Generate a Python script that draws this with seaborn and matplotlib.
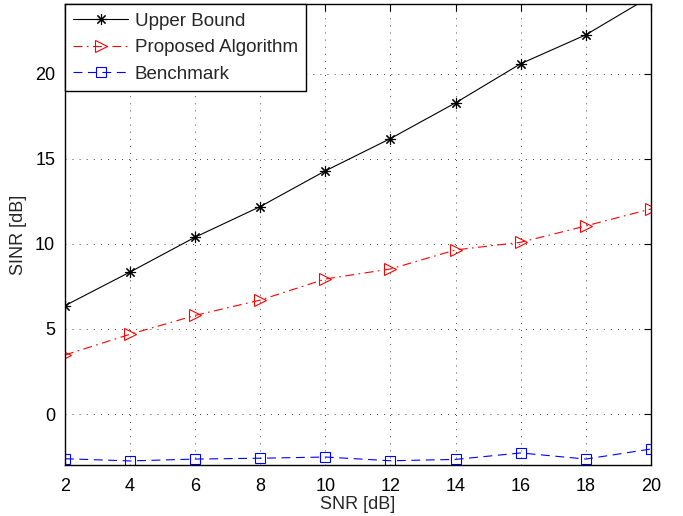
import matplotlib
matplotlib.use("Agg")
import matplotlib.pyplot as plt
import seaborn as sns
import numpy as np

snr = [2, 4, 6, 8, 10, 12, 14, 16, 18, 20]
upper_bound = [6.37, 8.35, 10.4, 12.2, 14.3, 16.2, 18.3, 20.6, 22.3, 24.57]
proposed = [3.47, 4.69, 5.8, 6.7, 7.94, 8.53, 9.65, 10.1, 11.06, 12.06]
benchmark = [-2.63, -2.76, -2.65, -2.6, -2.53, -2.75, -2.67, -2.29, -2.65, -2.06]
xticks = [2, 4, 6, 8, 10, 12, 14, 16, 18, 20]
yticks = [0, 5, 10, 15, 20]

sns.set_style("white")
plt.rcParams['font.family'] = ['Liberation Sans', 'DejaVu Sans']

fig = plt.figure(figsize=(6.83, 5.16), dpi=100)
ax = fig.add_axes([0.095, 0.0988, 0.858, 0.893])

sns.lineplot(x=snr, y=upper_bound, ax=ax, color='black', linestyle='-', linewidth=0.8,
             marker=(8, 2, 0), markersize=8, markeredgewidth=0.8, markeredgecolor='black',
             label='Upper Bound')
sns.lineplot(x=snr, y=proposed, ax=ax, color='red', linewidth=0.8,
             marker='>', markersize=9, markerfacecolor='none', markeredgecolor='red',
             markeredgewidth=0.8, label='Proposed Algorithm')
ax.lines[-1].set_dashes([8, 4, 1.5, 4])
sns.lineplot(x=snr, y=benchmark, ax=ax, color='blue', linewidth=0.8,
             marker='s', markersize=6.5, markerfacecolor='none', markeredgecolor='blue',
             markeredgewidth=0.8, label='Benchmark')
ax.lines[-1].set_dashes([8, 5])

ax.set_xlim(2, 20)
ax.set_ylim(-3.0, 24.1)
ax.set_xticks(xticks)
ax.set_yticks(yticks)
ax.grid(True, linestyle=(0, (1, 7.5)), color='black', linewidth=0.6)
ax.tick_params(direction='in', top=True, right=True, length=5, width=0.8,
               labelsize=13, colors='black', pad=7)
ax.tick_params(axis='x', pad=9)
for s in ax.spines.values():
    s.set_color('black')
    s.set_linewidth(1.0)
ax.set_xlabel('SNR [dB]', fontsize=13, labelpad=1)
ax.set_ylabel('SINR [dB]', fontsize=13, labelpad=6)

leg = ax.legend(loc='upper left', fontsize=13.5, frameon=True, fancybox=False,
                edgecolor='black', borderaxespad=0.0, handlelength=2.9,
                borderpad=0.45, labelspacing=0.5, numpoints=1, handletextpad=0.37)
leg.get_frame().set_linewidth(1.0)
leg.get_frame().set_alpha(1)
leg.set_zorder(5)

fig.savefig('out.png', dpi=100)
